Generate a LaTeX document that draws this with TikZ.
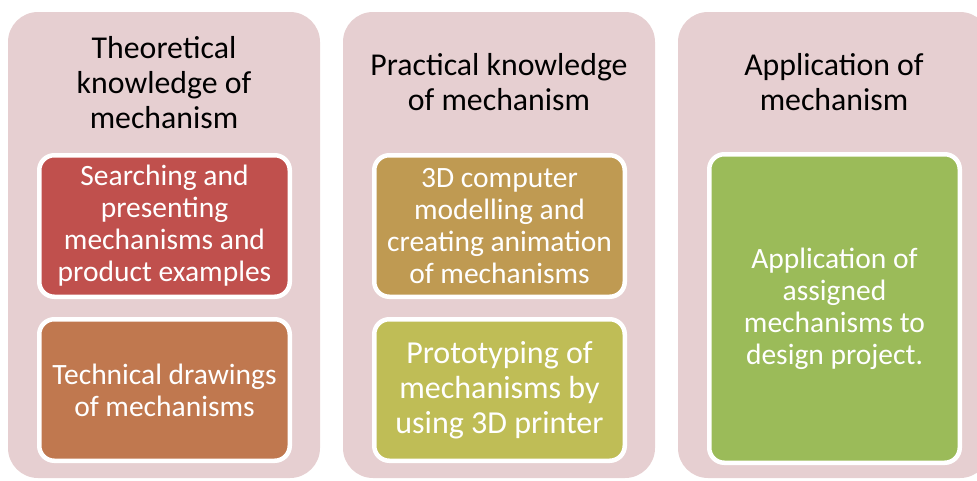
\documentclass[tikz,border=0pt]{standalone}
\usepackage{fontspec}
\setmainfont{Carlito}
\usetikzlibrary{positioning}
\definecolor{mpanel}{HTML}{E6CFD1}
\definecolor{mred}{HTML}{C0504D}
\definecolor{morange}{HTML}{C0784F}
\definecolor{mgold}{HTML}{BF9A52}
\definecolor{molive}{HTML}{BFBD56}
\definecolor{mgreen}{HTML}{9BBB59}

\begin{document}
\begin{tikzpicture}[
  x=1pt, y=-1pt,
  % a stage is a tall pink card with a title and white-rimmed task cards
  panel/.style = {fill=mpanel, rounded corners=30pt, inner sep=0pt,
                  minimum width=312pt, minimum height=466pt},
  head/.style  = {font=\fontsize{31.8}{35}\selectfont, text=black,
                  align=center, inner sep=0pt},
  task/.style  = {draw=white, line width=4.5pt, rounded corners=15pt,
                  text=white, align=center, inner sep=0pt,
                  minimum width=250.5pt, minimum height=141.5pt,
                  font=\fontsize{29.5}{32}\selectfont},
  bigtask/.style = {task, font=\fontsize{32}{35}\selectfont},
]
\useasboundingbox (0,0) rectangle (977,480);
\clip (0,0) rectangle (977,480);

% ============================ the three stages ==============================
\node[panel] (theory) at (164,245) {};
\node[panel] (practice) at (499,245) {};
\node[panel] (apply) at (834,245) {};

\node[head] (theoryh) at (164,83) {Theoretical\\knowledge of\\mechanism};
\node[head] (practiceh) at (499,82) {Practical knowledge\\of mechanism};
\node[head] (applyh) at (834,82) {Application of\\mechanism};

% ============================ tasks per stage ===============================
\node[task, fill=mred] (search) at (164.5,226)
     {Searching and\\presenting\\mechanisms and\\product examples};
\node[task, fill=morange, below=18pt of search] (drawings)
     {Technical drawings\\of mechanisms};

\node[task, fill=mgold] (model) at (499.5,226)
     {3D computer\\modelling and\\creating animation\\of mechanisms};
\node[bigtask, fill=molive, below=18pt of model] (proto)
     {Prototyping of\\mechanisms by\\using 3D printer};

\node[task, fill=mgreen, minimum height=308.5pt] (assign) at (834.5,308.5)
     {Application of\\assigned\\mechanisms to\\design project.};
\end{tikzpicture}
\end{document}
